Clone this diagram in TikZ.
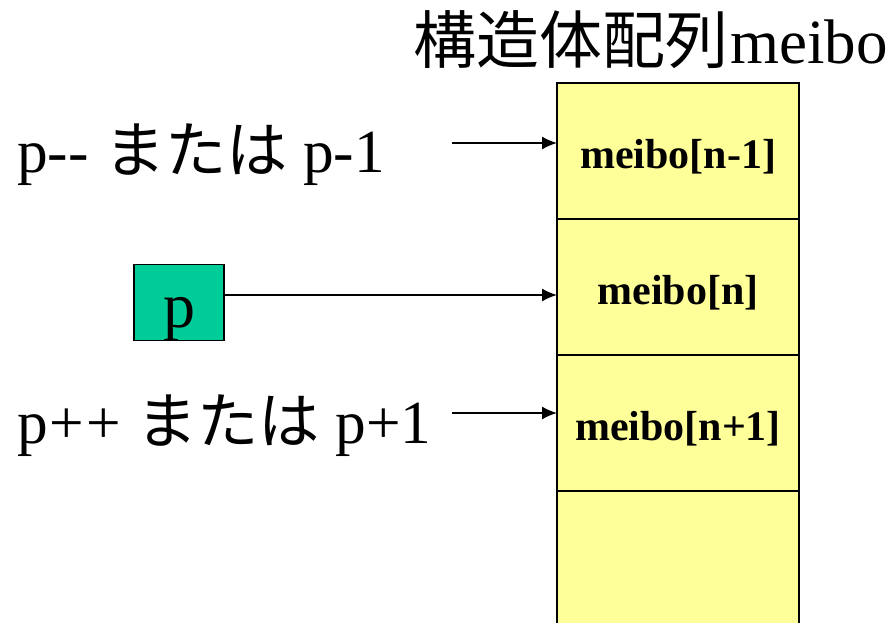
\documentclass[tikz,border=0pt]{standalone}
\usepackage{fontspec}
\setmainfont{Liberation Serif}
\newfontfamily\jp{Noto Sans CJK JP}
\usetikzlibrary{arrows.meta}
\definecolor{cellyellow}{HTML}{FFFF99}
\definecolor{pgreen}{HTML}{00CC99}
\tikzset{
  cell/.style={draw=black, line width=2pt, fill=cellyellow, minimum width=242pt, minimum height=136pt, inner sep=0pt, outer sep=0pt},
  celltext/.style={font=\rmfamily\fontsize{42}{50}\selectfont\bfseries, inner sep=0pt},
  biglabel/.style={font=\rmfamily\fontsize{61.3}{72}\selectfont, inner sep=0pt, anchor=base west},
  ptr/.style={line width=1.6pt, -{Latex[length=15pt,width=13pt]}},
  pbox/.style={draw=black, line width=1.5pt, fill=pgreen, minimum width=90pt, minimum height=76pt, inner sep=0pt}
}
\begin{document}
\begin{tikzpicture}[x=1pt,y=-1pt]
\useasboundingbox (0,0) rectangle (894,623);
\clip (0,0) rectangle (894,623);
% array cells
\node[cell] (c1) at (678,151) {};
\node[cell] (c2) at (678,287) {};
\node[cell] (c3) at (678,423) {};
\node[cell] (c4) at (678,559) {};
\node[celltext] (t1) at ([yshift=-6pt]c1.center) {meibo[n-1]};
\node[celltext] (t2) at ([yshift=-6pt]c2.center) {meibo[n]};
\node[celltext] (t3) at ([yshift=-6pt]c3.center) {meibo[n+1]};
% title
\node[font=\rmfamily\fontsize{63}{72}\selectfont, inner sep=0pt, anchor=base west] (title) at (413,64) {{\jp 構造体配列}\kern2pt meibo};
% labels
\node[biglabel] (lm) at (17,172) {p-{}- {\jp または} p-1};
\node[biglabel] (lp) at (17,443) {p\kern2pt+\kern2pt+ {\jp または} p+1};
% pointer box
\node[pbox] (p) at (179,302.5) {};
\node[font=\rmfamily\fontsize{64}{72}\selectfont, inner sep=0pt, anchor=base] (ptext) at (179,327) {p};
% arrows
\coordinate (a1) at (452,143);
\coordinate (a2) at (224,295);
\coordinate (a3) at (452,413);
\draw[ptr] (a1) -- (a1 -| c1.west);
\draw[ptr] (a2) -- (a2 -| c2.west);
\draw[ptr] (a3) -- (a3 -| c3.west);
\end{tikzpicture}
\end{document}
